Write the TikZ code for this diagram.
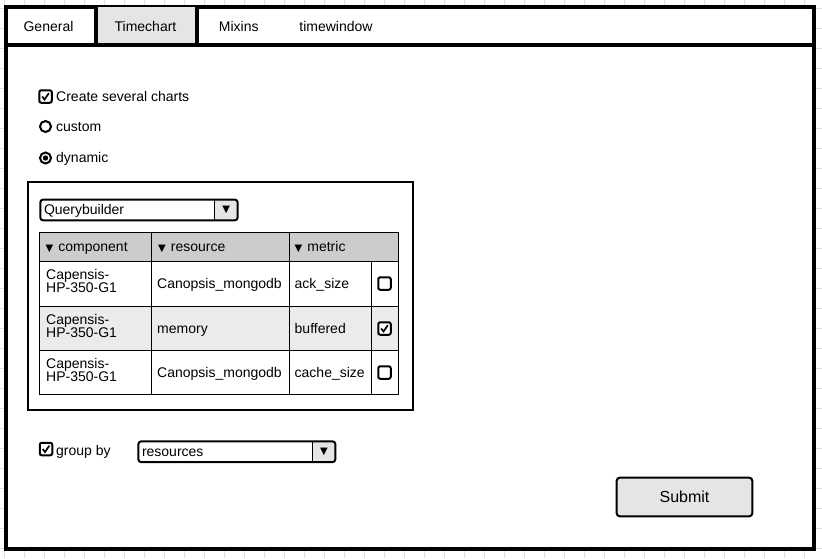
\documentclass[tikz,border=0pt]{standalone}
\usepackage{fontspec}
\setmainfont{Liberation Sans}
\newfontfamily\symfont{DejaVu Sans}
\newcommand\tri{{\symfont\fontsize{10}{10}\selectfont ▼}}

\begin{document}
\begin{tikzpicture}[x = 1pt, y = -1pt,
    every node/.style = {inner sep = 0pt, font = \fontsize{14}{13.3}\selectfont},
    txt/.style = {anchor = base west},
    frame/.style = {draw, line width = 4pt},
    gridline/.style = {black!12, line width = 0.8pt},
    chkbox/.style = {draw, line width = 2pt, rounded corners = 2pt, minimum size = 12.5pt, fill = white},
    tick/.style = {line width = 1.7pt},
    radio/.style = {draw, circle, line width = 2pt, minimum size = 11pt},
    dropbox/.style = {anchor = north west, fill = white, minimum height = 20.5pt},
    dropline/.style = {line width = 2pt, rounded corners = 3pt},
    cellline/.style = {line width = 1pt}]
    \useasboundingbox (0,0) rectangle (822,558);
    \fill[white] (0,0) rectangle (822,558);
    \foreach \x in {4.7,24.7,...,824.7} \draw[gridline] (\x,0) -- (\x,558);
    \foreach \y in {8.5,28.5,...,568.5} \draw[gridline] (0,\y) -- (822,\y);

    \draw[frame, fill = white] (5.5,7) rectangle (814,549);
    \fill[black!10] (96,7) rectangle (197,44.5);
    \draw[frame] (5.5,44.5) -- (814,44.5);
    \foreach \x in {96,197} \draw[frame] (\x,7) -- (\x,44.5);
    \foreach \n/\x/\t in {general/48.5/General, timechart/145.5/Timechart, mixins/238.8/Mixins, timewindow/336/timewindow}
        \node[anchor = base] (\n) at (\x,31.5) {\t};

    \node[chkbox] (several) at (45.5,96.5) {};
    \node[txt] (severaltxt) at (56,101) {Create several charts};
    \node[radio] (custom) at (45.5,126.5) {};
    \node[txt] (customtxt) at (56,131) {custom};
    \node[radio] (dynamic) at (45.5,158) {};
    \fill (dynamic) circle (2.7);
    \node[txt] (dynamictxt) at (56,162.5) {dynamic};

    \node[draw, line width = 2pt, anchor = north west, minimum width = 385, minimum height = 228] (query) at (27,181) {};

    \foreach \n/\x/\y/\w/\t in {qb/40.3/199.5/197/Querybuilder, grp/138.3/441.3/196.7/resources} {
        \node[dropbox, minimum width = \w] (\n) at (\x,\y) {};
        \fill[black!10] ([xshift = -23]\n.north east) [rounded corners = 3pt] -- (\n.north east)
            -- (\n.south east) [sharp corners] -- ([xshift = -23]\n.south east) -- cycle;
        \draw[dropline] (\n.north west) rectangle (\n.south east);
        \draw[line width = 1.5pt] ([xshift = -23]\n.north east) -- ([xshift = -23]\n.south east);
        \node (\n arrow) at ([xshift = -11.5]\n.east) {\tri};
        \node[txt] (\n txt) at ([xshift = 3.5, yshift = -4.7]\n.west) {\t};
    }

    \fill[black!20] (39.5,232.5) rectangle (398.5,261);
    \fill[black!8] (39.5,306) rectangle (398.5,350);
    \draw[cellline] (39.5,232.5) rectangle (398.5,394.5);
    \foreach \y in {261,306,350} \draw[cellline] (39.5,\y) -- (398.5,\y);
    \foreach \x in {151.5,289.5} \draw[cellline] (\x,232.5) -- (\x,394.5);
    \draw[cellline] (371.5,261) -- (371.5,394.5);
    \foreach \x/\t in {45.5/component, 158/resource, 294.5/metric}
        \node[txt] (h\t) at (\x,251) {\tri\hspace{5pt}\t};
    \foreach \r/\y/\res/\met in {1/261/Canopsis\_mongodb/ack\_size, 2/306/memory/buffered, 3/350/Canopsis\_mongodb/cache\_size} {
        \node[anchor = north west, align = left] (comp\r) at (46,\y+8) {Capensis-\\HP-350-G1};
        \node[txt] (res\r) at (157,\y+27) {\res};
        \node[txt] (met\r) at (294.5,\y+27) {\met};
        \node[chkbox] (box\r) at (384.5,\y+22.5) {};
    }

    \node[chkbox] (groupby) at (46,449) {};
    \node[txt] (groupbytxt) at (56,455) {group by};

    \node[draw, line width = 2pt, rounded corners = 3pt, fill = black!10, minimum width = 135.6,
        minimum height = 38.6, font = \fontsize{16}{16}\selectfont] (submit) at (684.5,497) {Submit};

    \foreach \c in {several, box2, groupby}
        \draw[tick] ([shift = {(-3.3,0)}]\c.center) -- ([shift = {(-1,3)}]\c.center)
            -- ([shift = {(3.4,-3.4)}]\c.center);
\end{tikzpicture}
\end{document}
